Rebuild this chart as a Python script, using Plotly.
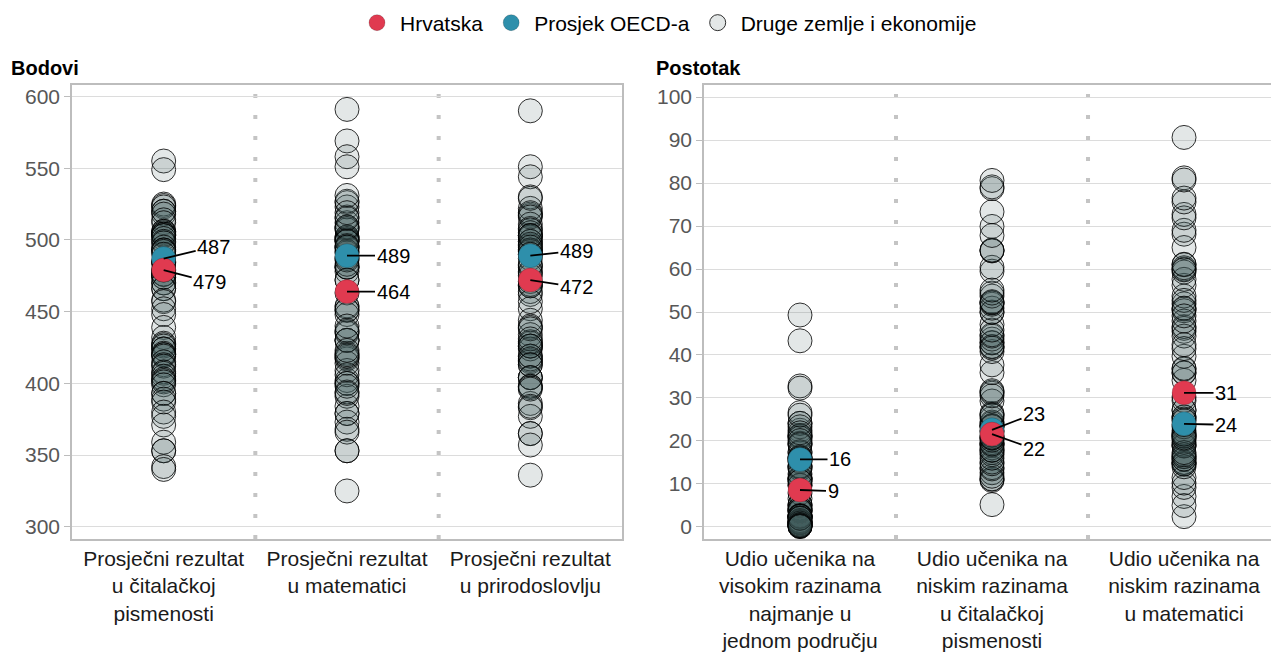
import plotly.graph_objects as go

# ---------------- data ----------------
left_categories = ["Prosječni rezultat<br>u čitalačkoj<br>pismenosti",
                   "Prosječni rezultat<br>u matematici",
                   "Prosječni rezultat<br>u prirodoslovlju"]
right_categories = ["Udio učenika na<br>visokim razinama<br>najmanje u<br>jednom području",
                    "Udio učenika na<br>niskim razinama<br>u čitalačkoj<br>pismenosti",
                    "Udio učenika na<br>niskim razinama<br>u matematici"]

others_reading = [555, 549, 525, 524, 523, 520, 520, 518, 514, 512, 506, 506, 505, 504, 504, 503, 503,
                  501, 499, 498, 495, 493, 493, 492, 490, 485, 484, 484, 479, 479, 476, 476, 476, 474,
                  474, 470, 470, 466, 466, 458, 457, 452, 448, 439, 432, 428, 427, 426, 424, 424, 421,
                  420, 420, 419, 415, 413, 412, 408, 407, 405, 403, 402, 401, 399, 393, 393, 389, 387,
                  380, 377, 371, 359, 353, 353, 342, 340]
others_math = [591, 569, 558, 551, 523, 512, 507, 500, 526, 516, 502, 494, 478, 502, 527, 491, 531,
               509, 501, 500, 509, 508, 495, 492, 499, 519, 499, 515, 496, 488, 487, 481, 481, 495,
               472, 463, 483, 453, 454, 486, 451, 417, 472, 448, 435, 430, 418, 402, 451, 421, 430,
               409, 436, 400, 440, 384, 391, 430, 414, 437, 406, 379, 400, 373, 419, 394, 420, 423,
               398, 353, 379, 368, 393, 366, 325, 353, 481]
others_science = [590, 551, 544, 517, 530, 518, 522, 496, 519, 511, 499, 508, 502, 505, 529, 503, 516,
                  493, 490, 503, 507, 499, 493, 492, 497, 503, 490, 495, 487, 478, 468, 481, 482, 475,
                  471, 462, 477, 469, 468, 464, 452, 444, 457, 440, 434, 426, 426, 416, 439, 428, 415,
                  419, 424, 429, 438, 404, 413, 431, 419, 417, 398, 404, 404, 386, 426, 413, 398, 397,
                  383, 365, 396, 377, 384, 365, 336, 357, 483]

others_top = [49.3, 43.3, 32.8, 32.3, 22.5, 24.1, 21.0, 15.4, 26.6, 21.2, 19.5, 24.1, 17.2, 21.3, 23.3,
              20.7, 26.0, 16.3, 16.0, 19.1, 17.5, 19.3, 15.8, 15.2, 16.1, 21.9, 14.2, 20.1, 11.3, 11.2,
              9.7, 11.4, 11.1, 13.5, 9.7, 14.1, 13.9, 7.9, 6.6, 10.6, 5.0, 3.5, 12.3, 5.0, 5.3, 3.8,
              2.2, 1.0, 4.3, 2.5, 2.0, 1.1, 3.8, 0.7, 2.7, 2.5, 1.1, 4.3, 3.9, 2.5, 0.4, 1.1, 1.3, 0.3,
              2.5, 1.5, 2.5, 2.1, 0.9, 0.5, 0.6, 0.2, 2.0, 0.1, 0.1, 0.3, 10.6]
others_low_reading = [5.2, 11.2, 10.8, 12.6, 11.1, 13.8, 13.5, 11.8, 15.1, 14.7, 18.4, 19.0, 19.3, 17.3,
                      16.8, 19.6, 17.8, 16.0, 19.3, 20.7, 17.9, 21.3, 20.9, 20.2, 20.7, 24.1, 23.6, 23.6,
                      22.4, 22.1, 23.3, 25.3, 24.4, 26.4, 23.4, 31.1, 29.3, 25.9, 26.1, 31.4, 30.5, 31.7,
                      35.9, 37.7, 42.9, 40.8, 41.9, 42.0, 43.7, 42.8, 44.4, 44.7, 47.1, 41.6, 45.8, 50.0,
                      49.9, 51.8, 50.9, 52.2, 53.7, 52.1, 54.4, 52.4, 59.5, 55.1, 60.4, 64.2, 64.4, 64.3,
                      69.9, 73.3, 67.8, 78.7, 79.1, 80.6]
others_low_math = [2.4, 7.1, 5.0, 9.2, 10.2, 16.3, 15.0, 15.7, 15.0, 14.7, 18.8, 21.8, 27.1, 19.2, 11.5,
                   22.4, 14.0, 14.6, 18.9, 21.1, 16.4, 19.7, 21.3, 23.3, 20.4, 15.8, 21.1, 16.8, 17.3,
                   21.6, 23.8, 25.6, 25.6, 20.7, 29.4, 34.1, 27.2, 35.9, 36.7, 25.1, 35.8, 51.9, 30.2,
                   39.7, 45.5, 46.6, 50.7, 60.0, 36.9, 50.3, 46.2, 56.2, 44.4, 59.3, 41.5, 68.1, 65.0,
                   47.9, 53.7, 42.4, 57.6, 69.0, 60.3, 72.7, 52.7, 61.0, 50.9, 49.1, 61.1, 81.2, 71.9,
                   75.6, 59.8, 76.5, 90.6, 80.7, 24.7]

croatia_scores = [479, 464, 472]
oecd_scores = [487, 489, 489]
croatia_shares = [8.6, 21.6, 31.2]
oecd_shares = [15.7, 22.6, 24.0]

# label offsets (pixels) for value callouts: (ax, ay)
croatia_left_offsets = [(46, 12), (46, 0), (46, 7)]
oecd_left_offsets = [(50, -12), (46, 0), (46, -5)]
croatia_right_offsets = [(33, 1), (42, 15), (42, 0)]
oecd_right_offsets = [(40, 0), (42, -16), (42, 1)]

# ---------------- style ----------------
RED = "#e03a50"
TEAL = "#2e8fab"
GRAY_FILL = "rgba(70,92,92,0.15)"
GRAY_LINE = "rgba(0,0,0,0.8)"
FONT = "Liberation Sans, Arial, sans-serif"
MSIZE = 24
TXT = 21

W, H = 1271, 660
def px_x(p): return p / W
def px_y(p): return 1 - p / H

fig = go.Figure()

left_others = [others_reading, others_math, others_science]
right_others = [others_top, others_low_reading, others_low_math]

def add_panel(others, croatia, oecd, xa, ya, showlegend):
    for i, vals in enumerate(others):
        fig.add_trace(go.Scatter(
            x=[i] * len(vals), y=vals, mode="markers", xaxis=xa, yaxis=ya,
            marker=dict(size=MSIZE, color=GRAY_FILL, line=dict(color=GRAY_LINE, width=1)),
            name="Druge zemlje i ekonomije", legendgroup="o", legendrank=3,
            showlegend=(showlegend and i == 0), hoverinfo="y"))
    fig.add_trace(go.Scatter(
        x=list(range(len(oecd))), y=oecd, mode="markers", xaxis=xa, yaxis=ya,
        marker=dict(size=MSIZE, color=TEAL, line=dict(color="rgba(0,0,0,0.35)", width=0.5)),
        name="Prosjek OECD-a", legendgroup="b", legendrank=2, showlegend=showlegend))
    fig.add_trace(go.Scatter(
        x=list(range(len(croatia))), y=croatia, mode="markers", xaxis=xa, yaxis=ya,
        marker=dict(size=MSIZE, color=RED, line=dict(color="rgba(0,0,0,0.35)", width=0.5)),
        name="Hrvatska", legendgroup="r", legendrank=1, showlegend=showlegend))

add_panel(left_others, croatia_scores, oecd_scores, "x", "y", True)
add_panel(right_others, croatia_shares, oecd_shares, "x2", "y2", False)

annotations = []
def callouts(vals, offsets, xr, yr):
    for i, (v, (ax, ay)) in enumerate(zip(vals, offsets)):
        annotations.append(dict(
            x=i, y=v, xref=xr, yref=yr, text=str(round(v)), showarrow=True,
            arrowhead=0, arrowwidth=1.8, arrowcolor="#000", ax=ax, ay=ay,
            standoff=0, startstandoff=0,
            font=dict(size=20, color="#000", family=FONT)))

callouts(oecd_scores, oecd_left_offsets, "x", "y")
callouts(croatia_scores, croatia_left_offsets, "x", "y")
callouts(oecd_shares, oecd_right_offsets, "x2", "y2")
callouts(croatia_shares, croatia_right_offsets, "x2", "y2")

annotations.append(dict(text="<b>Bodovi</b>", x=px_x(9), y=px_y(68), xref="paper", yref="paper",
                        xanchor="left", yanchor="middle", showarrow=False,
                        font=dict(size=20, color="#000", family=FONT)))
annotations.append(dict(text="<b>Postotak</b>", x=px_x(654), y=px_y(68), xref="paper", yref="paper",
                        xanchor="left", yanchor="middle", showarrow=False,
                        font=dict(size=20, color="#000", family=FONT)))

shapes = []
for xr, yr in (("x", "y domain"), ("x2", "y2 domain")):
    for xv in (0.5, 1.5):
        shapes.append(dict(type="line", x0=xv, x1=xv, y0=0, y1=1, xref=xr, yref=yr,
                           line=dict(color="#c4c4c4", width=4, dash="4px,17px"), layer="below"))

ydom = [1 - 539 / H, 1 - 85 / H]
ytick_font = dict(size=TXT, color="#575757", family=FONT)
xtick_font = dict(size=TXT, color="#1a1a1a", family=FONT)

fig.update_layout(
    width=W, height=H, margin=dict(l=0, r=0, t=0, b=0),
    paper_bgcolor="white", plot_bgcolor="white",
    font=dict(family=FONT, color="#1a1a1a"),
    showlegend=True,
    legend=dict(orientation="h", x=px_x(668), y=px_y(23), xanchor="center", yanchor="middle",
                font=dict(size=TXT, color="#000", family=FONT), itemsizing="trace",
                traceorder="normal", itemwidth=36),
    xaxis=dict(domain=[px_x(72), px_x(622)], range=[-0.5, 2.5], tickvals=[0, 1, 2],
               ticktext=left_categories, showgrid=False, zeroline=False, ticks="",
               showline=True, linecolor="#bdbdbd", linewidth=1.5, mirror=True,
               tickfont=xtick_font, anchor="y"),
    yaxis=dict(domain=ydom, range=[291.5, 608], tickvals=[300, 350, 400, 450, 500, 550, 600],
               showgrid=True, gridcolor="#dcdcdc", gridwidth=1.2, zeroline=False,
               showline=True, linecolor="#bdbdbd", linewidth=1.5, mirror=True,
               ticks="outside", ticklen=6, tickcolor="#bdbdbd", tickfont=ytick_font, anchor="x"),
    xaxis2=dict(domain=[px_x(704), 1.0], range=[-0.5, 2.453], tickvals=[0, 1, 2],
                ticktext=right_categories, showgrid=False, zeroline=False, ticks="",
                showline=True, linecolor="#bdbdbd", linewidth=1.5, mirror=True,
                tickfont=xtick_font, anchor="y2"),
    yaxis2=dict(domain=ydom, range=[-2.8, 102.8], tickvals=list(range(0, 101, 10)),
                showgrid=True, gridcolor="#dcdcdc", gridwidth=1.2, zeroline=False,
                showline=True, linecolor="#bdbdbd", linewidth=1.5, mirror=False,
                ticks="outside", ticklen=6, tickcolor="#bdbdbd", tickfont=ytick_font, anchor="x2"),
    annotations=annotations, shapes=shapes,
)

fig.write_html("out.html", config={"displayModeBar": False},
               post_script="document.body.style.margin='0';")
